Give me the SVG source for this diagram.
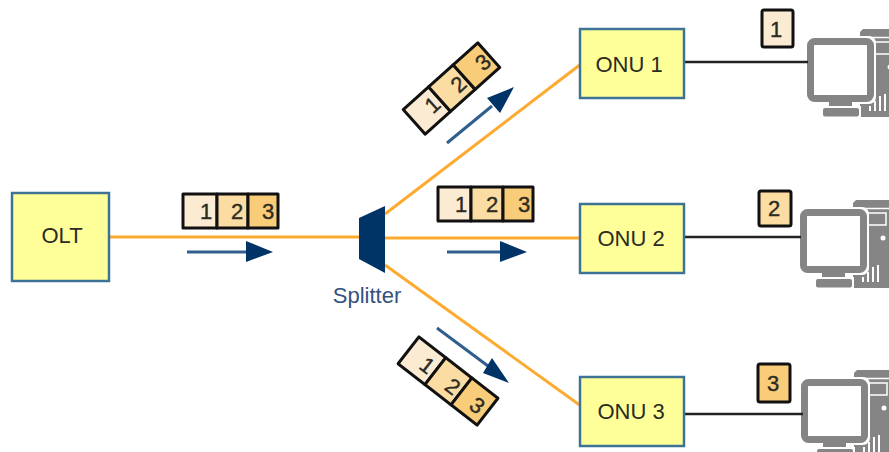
<svg xmlns="http://www.w3.org/2000/svg" width="889" height="452" viewBox="0 0 889 452">
<style>
text{font-family:"Liberation Sans",Arial,sans-serif;fill:#2b2b22}
.box{fill:#ffff99;stroke:#3f7396;stroke-width:2.500}
.lbl{font-size:22px;text-anchor:middle}
.fib{stroke:#fdaa30;stroke-width:3;fill:none}
.cu{stroke:#222;stroke-width:2.500;fill:none}
.dir{stroke:#2f5f8c;stroke-width:3;fill:none}
.head{fill:#003366}
.p{stroke:#111;stroke-width:3;stroke-linejoin:round}
.c1{fill:#fcebd3}.c2{fill:#fbdca3}.c3{fill:#f8cc78}
.n{font-size:22px;text-anchor:middle;stroke:#2b2b22;stroke-width:.4}
.g{fill:#858585}
</style>
<defs>
<g id="pc">
<path class="g" d="M863 29H896V117H860V32Z"/>
<path fill="none" stroke="#fff" stroke-width="1.500" d="M860 37.500H896M875 42H893V54H875"/>
<circle cx="890" cy="67" r="2.500" fill="#fff"/>
<path fill="#fff" d="M869 106h2v5h-2zM874 101h2v10h-2zM879 96h2v15h-2zM884 94h2v17h-2z"/>
<rect x="805" y="36" width="71" height="68" rx="7" fill="#fff"/>
<rect x="810.500" y="41.500" width="60" height="57" rx="4" fill="#fff" stroke="#858585" stroke-width="7"/>
<path class="g" d="M829 102h23v4h-23z"/>
<rect x="821" y="106" width="40" height="13" fill="#fff"/>
<path class="g" d="M829 102h23v4h-23z"/>
<rect class="g" x="823" y="108" width="36" height="8.500" rx="2"/>
</g>
</defs>
<g id="pc1"><use href="#pc"/></g>
<g id="pc2"><use href="#pc" x="-7" y="171"/></g>
<g id="pc3"><use href="#pc" x="-6" y="341"/></g>
<g id="connectors">
<path class="fib" d="M109 237H359"/>
<path class="fib" d="M385 214L581 64"/>
<path class="fib" d="M385 238H580"/>
<path class="fib" d="M385 265L581 406"/>
<path class="cu" d="M684 62H808"/>
<path class="cu" d="M684 237H801"/>
<path class="cu" d="M684 414H803"/>
</g>
<g id="olt"><rect class="box" x="12" y="193" width="97" height="88"/><text class="lbl" x="62" y="243">OLT</text></g>
<g id="onu1"><rect class="box" x="580" y="29" width="104" height="69"/><text class="lbl" x="629" y="72">ONU 1</text></g>
<g id="onu2"><rect class="box" x="580" y="204" width="104" height="69"/><text class="lbl" x="631" y="246">ONU 2</text></g>
<g id="onu3"><rect class="box" x="580" y="377" width="104" height="69"/><text class="lbl" x="631" y="419">ONU 3</text></g>
<g id="splitter"><path class="head" d="M359 218L385 206V273L359 259Z"/><text x="367" y="303" font-size="22" text-anchor="middle" style="fill:#35527f">Splitter</text></g>
<g id="tag1"><rect class="p c1" x="762" y="10" width="31" height="37" rx="2"/><text class="n" x="776" y="37">1</text></g>
<g id="tag2"><rect class="p c2" x="759" y="191" width="32" height="35" rx="2"/><text class="n" x="774" y="216">2</text></g>
<g id="tag3"><rect class="p c3" x="758" y="364" width="32" height="38" rx="2"/><text class="n" x="773" y="391">3</text></g>
<g id="frame-olt">
<rect class="p c1" x="183" y="194" width="34" height="34"/><rect class="p c2" x="217" y="194" width="31" height="34"/><rect class="p c3" x="248" y="194" width="30" height="34"/>
<text class="n" x="206" y="219">1</text><text class="n" x="237" y="219">2</text><text class="n" x="268" y="219">3</text>
</g>
<g id="frame-mid">
<rect class="p c1" x="438" y="187" width="33" height="34"/><rect class="p c2" x="471" y="187" width="32" height="34"/><rect class="p c3" x="503" y="187" width="30" height="34"/>
<text class="n" x="461" y="212">1</text><text class="n" x="492" y="212">2</text><text class="n" x="524" y="212">3</text>
</g>
<g id="frame-up" transform="translate(451.500 88.500) rotate(-41.800)">
<rect class="p c1" x="-50" y="-16.500" width="34" height="33"/><rect class="p c2" x="-16" y="-16.500" width="33" height="33"/><rect class="p c3" x="17" y="-16.500" width="33" height="33"/>
<text class="n" x="-25" y="7">1</text><text class="n" x="8" y="9">2</text><text class="n" x="41" y="9">3</text>
</g>
<g id="frame-down" transform="translate(448 381) rotate(37.800)">
<rect class="p c1" x="-50" y="-17" width="34" height="34"/><rect class="p c2" x="-16" y="-17" width="33" height="34"/><rect class="p c3" x="17" y="-17" width="33" height="34"/>
<text class="n" x="-26" y="8">1</text><text class="n" x="7" y="9">2</text><text class="n" x="38" y="9">3</text>
</g>
<g id="arrow-olt"><path class="dir" d="M187 252H250"/><path class="head" d="M246 241L273 252L246 262Z"/></g>
<g id="arrow-mid"><path class="dir" d="M447 252H504"/><path class="head" d="M500 241L527 252L500 262Z"/></g>
<g id="arrow-up"><path class="dir" d="M447 143L492 106"/><path class="head" d="M487 98L514 87L500 113Z"/></g>
<g id="arrow-down"><path class="dir" d="M437 328L488 366"/><path class="head" d="M492 358L509 383L483 373Z"/></g>
</svg>
